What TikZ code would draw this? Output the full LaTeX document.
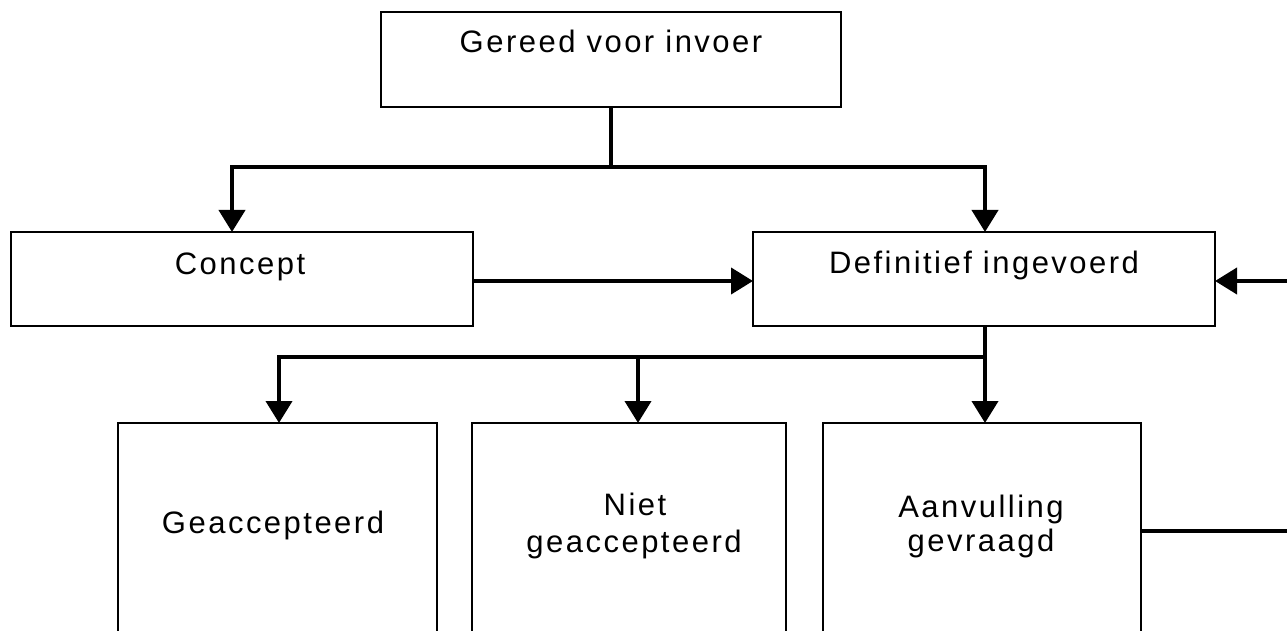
\documentclass[tikz,border=0pt]{standalone}
\usepackage{fontspec}
\setmainfont{Liberation Sans}[LetterSpace=8]
\usetikzlibrary{arrows.meta}
\tikzset{
  box/.style={draw=black, line width=2pt, fill=white, inner sep=0pt, outer sep=0pt},
  conn/.style={draw=black, line width=4pt, line cap=butt, line join=miter},
  arr/.style={conn, -{Triangle[length=22pt,width=26pt]}},
  lbl/.style={inner sep=0pt, anchor=base, align=center, font=\fontsize{31}{33}\selectfont}
}
\begin{document}
\begin{tikzpicture}[x=1pt,y=-1pt]
\useasboundingbox (0,0) rectangle (1287,631);
\clip (0,0) rectangle (1287,631);
% boxes
\node[box, minimum width=460pt, minimum height=95pt] (gereed) at (611,59.5) {};
\node[box, minimum width=462pt, minimum height=94pt] (concept) at (242,279) {};
\node[box, minimum width=462pt, minimum height=94pt] (defin) at (984,279) {};
\node[box, minimum width=319pt, minimum height=300pt] (geacc) at (277.5,573) {};
\node[box, minimum width=314pt, minimum height=300pt] (niet) at (629,573) {};
\node[box, minimum width=318pt, minimum height=300pt] (aanv) at (982,573) {};
% labels
\node[lbl] (tgereed) at (611,53) {Gereed voor invoer};
\node[lbl] (tconcept) at (240,274) {Concept};
\node[lbl] (tdefin) at (984,273) {Definitief ingevoerd};
\node[lbl] (tgeacc) at (273,533) {Geaccepteerd};
\node[lbl] (tniet1) at (635,515) {Niet};
\node[lbl] (tniet2) at (634,552) {geaccepteerd};
\node[lbl] (taanv1) at (981,517) {Aanvulling};
\node[lbl] (taanv2) at (981,551) {gevraagd};
% junctions
\coordinate (j1) at (611,167);
\coordinate (c1) at (232,167);
\coordinate (d1) at (985,167);
\coordinate (j2) at (985,357);
\coordinate (g1) at (279,357);
\coordinate (n1) at (638,357);
\coordinate (rin) at (1290,281);
\coordinate (rout) at (1290,531);
\coordinate (cc) at (473,281);
% connectors
\draw[conn] (gereed.south) -- (j1);
\draw[arr] (j1) -- (c1) -- (c1 |- concept.north);
\draw[arr] (j1) -- (d1) -- (d1 |- defin.north);
\draw[arr] (cc) -- (cc -| defin.west);
\draw[arr] (rin) -- (rin -| defin.east);
\draw[conn] (defin.south -| j2) -- (j2);
\draw[arr] (j2) -- (g1) -- (g1 |- geacc.north);
\draw[arr] (n1) -- (n1 |- niet.north);
\draw[arr] (j2) -- (j2 |- aanv.north);
\draw[conn] (rout -| aanv.east) -- (rout);
\end{tikzpicture}
\end{document}
